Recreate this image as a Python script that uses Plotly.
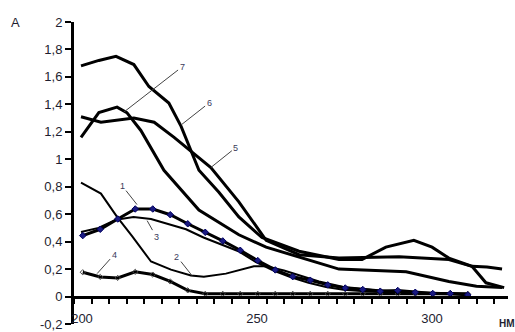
import plotly.graph_objects as go

# ---- data ----
x1 = [202.5, 207.5, 212.5, 217.5, 222.5, 227.5, 232.5, 237.5, 242.5, 247.5, 252.5, 257.5,
      262.5, 267.5, 272.5, 277.5, 282.5, 287.5, 292.5, 297.5, 302.5, 307.5, 312.5]
y1 = [0.444, 0.49, 0.565, 0.638, 0.638, 0.596, 0.53, 0.468, 0.405, 0.337, 0.262, 0.194,
      0.145, 0.119, 0.085, 0.062, 0.051, 0.039, 0.044, 0.031, 0.022, 0.022, 0.012]

x2 = [202, 207.7, 212.3, 216.6, 222, 227.7, 233.4, 237.1, 243.4, 251.4, 254.9, 260, 265,
      270, 277, 287, 300, 312]
y2 = [0.83, 0.75, 0.58, 0.44, 0.255, 0.196, 0.153, 0.145, 0.167, 0.22, 0.22, 0.19, 0.15,
      0.11, 0.07, 0.045, 0.03, 0.02]

x3 = [202, 207, 212, 217, 222, 227, 232, 237, 242, 247, 252, 257, 262, 267, 272, 277, 282,
      290, 300, 312]
y3 = [0.47, 0.50, 0.56, 0.58, 0.565, 0.53, 0.49, 0.43, 0.38, 0.33, 0.25, 0.19, 0.14, 0.10,
      0.07, 0.05, 0.04, 0.03, 0.02, 0.015]

x4 = [202.5, 207.5, 212.5, 217.5, 222.5, 227.5, 232.5, 237.5, 242.5, 247.5, 252.5, 257.5,
      262.5, 267.5, 272.5, 277.5, 282.5, 287.5, 292.5, 297.5, 302.5, 307.5, 312.5]
y4 = [0.177, 0.143, 0.136, 0.18, 0.16, 0.11, 0.045, 0.02, 0.02, 0.02, 0.02, 0.02,
      0.02, 0.02, 0.02, 0.02, 0.02, 0.02, 0.02, 0.02, 0.02, 0.02, 0.02]

x5 = [202, 207.7, 217.1, 222.9, 228.6, 232.9, 239.1, 247.1, 254.9, 264.3, 275.7, 292.9,
      307.1, 313.7, 318, 322.3]
y5 = [1.31, 1.27, 1.30, 1.27, 1.16, 1.07, 0.94, 0.69, 0.41, 0.305, 0.28, 0.29,
      0.27, 0.22, 0.215, 0.20]

x6 = [202.0, 207.1, 212.0, 217.1, 221.4, 227.1, 230.6, 233.4, 235.7, 241.4, 247.1, 253.7,
      264.3, 275.7, 282.3, 289.1, 297.1, 302.3, 307.1, 313.7, 317.7, 322.9]
y6 = [1.68, 1.72, 1.75, 1.69, 1.53, 1.41, 1.24, 1.07, 0.92, 0.76, 0.58, 0.43,
      0.33, 0.27, 0.27, 0.36, 0.41, 0.36, 0.28, 0.22, 0.10, 0.065]

x7 = [202, 207.1, 212.3, 215.1, 219.1, 225.7, 235.7, 247.1, 254.9, 264.3, 275.7, 294.9,
      307.1, 315, 322.3]
y7 = [1.16, 1.34, 1.38, 1.34, 1.21, 0.92, 0.63, 0.45, 0.36, 0.29, 0.20, 0.18,
      0.11, 0.075, 0.065]

y_tickvals = [-0.2, 0, 0.2, 0.4, 0.6, 0.8, 1.0, 1.2, 1.4, 1.6, 1.8, 2.0]
y_ticktext = ["-0,2", "0", "0,2", "0,4", "0,6", "0,8", "1", "1,2", "1,4", "1,6", "1,8", "2"]
x_tickvals = [200, 250, 300]
x_ticktext = ["200", "250", "300"]

# curve labels: (name, x, y of pointed curve point, dx, dy in px)
labels = [("7", 214.3, 1.345, 58, -45),
          ("6", 230.6, 1.25, 28, -22),
          ("5", 239.1, 0.94, 25, -20),
          ("1", 218.0, 0.67, -15, -19),
          ("3", 220.9, 0.553, 9, 16),
          ("2", 233.7, 0.153, -15, -19),
          ("4", 206.6, 0.167, 17, -19)]

fig = go.Figure()
fig.add_trace(go.Scatter(x=x6, y=y6, mode="lines", line=dict(color="black", width=3)))
fig.add_trace(go.Scatter(x=x5, y=y5, mode="lines", line=dict(color="black", width=3)))
fig.add_trace(go.Scatter(x=x7, y=y7, mode="lines", line=dict(color="black", width=3)))
fig.add_trace(go.Scatter(x=x2, y=y2, mode="lines", line=dict(color="black", width=2)))
fig.add_trace(go.Scatter(x=x3, y=y3, mode="lines", line=dict(color="black", width=2)))
fig.add_trace(go.Scatter(x=x4, y=y4, mode="lines+markers", line=dict(color="black", width=3),
                         marker=dict(symbol="diamond-open", size=4, color="#444444",
                                     line=dict(width=1, color="#444444"))))
fig.add_trace(go.Scatter(x=x1, y=y1, mode="lines+markers", line=dict(color="black", width=3),
                         marker=dict(symbol="diamond", size=5, color="#1a1a80",
                                     line=dict(width=1, color="#000060"))))

for name, lx, ly, dx, dy in labels:
    fig.add_annotation(x=lx, y=ly, xref="x", yref="y", text=name, showarrow=True,
                       arrowhead=0, arrowwidth=1, arrowcolor="#444444", ax=dx, ay=dy,
                       standoff=0, startstandoff=0,
                       font=dict(family="Liberation Sans, Arial", size=9, color="#3a3a5a"))

fig.update_layout(
    width=515, height=332,
    margin=dict(l=74, r=7, t=22, b=8),
    paper_bgcolor="white", plot_bgcolor="white",
    showlegend=False,
    font=dict(family="Liberation Sans, Arial", size=13, color="#1e1e30"),
    xaxis=dict(range=[200, 324], anchor="free", position=0.2 / 2.2, automargin=False,
               showline=True, linecolor="black", linewidth=3,
               showgrid=False, zeroline=False,
               tickvals=x_tickvals, ticktext=x_ticktext,
               ticks="outside", ticklen=5, tickwidth=2, tickcolor="black",
               minor=dict(dtick=5, tick0=200, ticks="outside", ticklen=5, tickwidth=2,
                          tickcolor="black", showgrid=False),
               ticklabelshift=8, ticklabelstandoff=4,
               tickfont=dict(size=13, color="#1e1e30")),
    yaxis=dict(range=[-0.2, 2.0], domain=[0, 1], automargin=False,
               showline=True, linecolor="black", linewidth=3,
               showgrid=False, zeroline=False,
               tickvals=y_tickvals, ticktext=y_ticktext,
               ticks="outside", ticklen=6, tickwidth=2, tickcolor="black",
               tickfont=dict(size=13, color="#1e1e30")),
)

fig.add_annotation(x=-59 / 434, y=1.0, xref="paper", yref="paper", text="A",
                   showarrow=False, xanchor="center", yanchor="middle",
                   font=dict(family="Liberation Sans, Arial", size=13, color="#1e1e30"))
fig.add_annotation(x=(507 - 74) / 434, y=(332 - 8 - 323) / 302, xref="paper", yref="paper",
                   text="<b>НМ</b>", showarrow=False, xanchor="center", yanchor="middle",
                   font=dict(family="Liberation Sans, Arial", size=10, color="#1e1e30"))

fig.write_html("out.html")
